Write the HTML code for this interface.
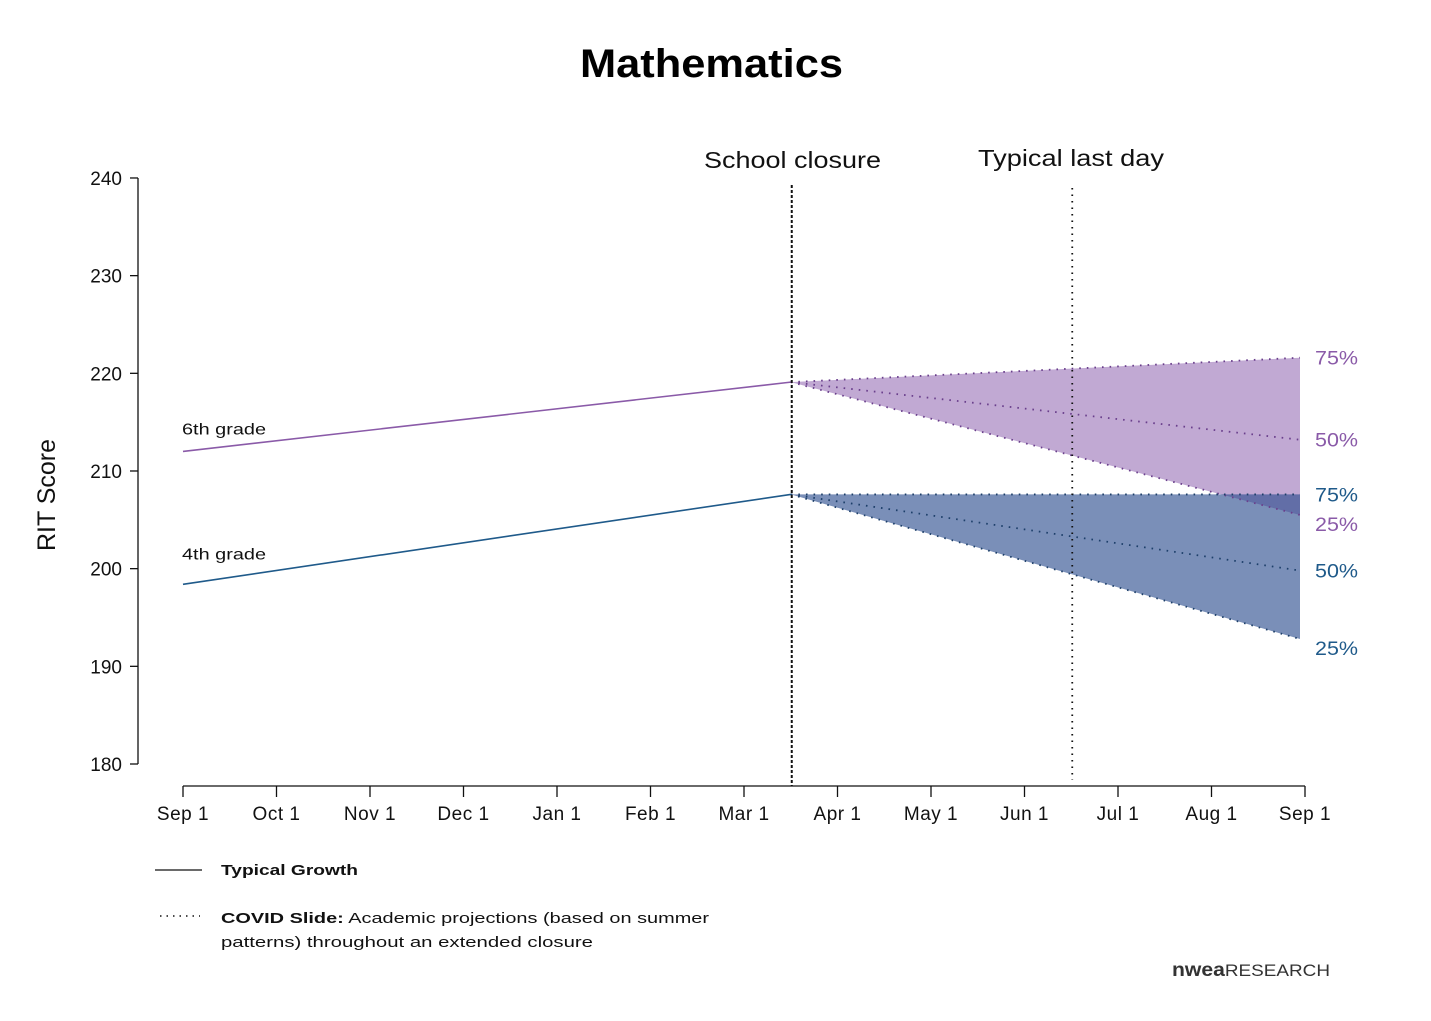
<!DOCTYPE html>
<html><head><meta charset="utf-8"><style>
body{margin:0;background:#fff;}
svg{display:block;font-family:"Liberation Sans",sans-serif;}
</style></head><body>
<svg id="c" width="1431" height="1021" viewBox="0 0 1431 1021">
<text x="580" y="77" textLength="263" lengthAdjust="spacingAndGlyphs" font-size="40" font-weight="bold" fill="#000">Mathematics</text>
<g id="plot"></g>
<text transform="translate(55,495) rotate(-90)" text-anchor="middle" font-size="25" fill="#111">RIT Score</text>
<g>
<line x1="155" y1="870" x2="202" y2="870" stroke="#111" stroke-width="1.3"/>
<text x="221" y="875" textLength="137" lengthAdjust="spacingAndGlyphs" font-size="15" font-weight="bold" fill="#111">Typical Growth</text>
<line x1="160" y1="916" x2="200" y2="916" stroke="#111" stroke-width="1.6" stroke-dasharray="1.5,5"/>
<text x="221" y="923" textLength="488" lengthAdjust="spacingAndGlyphs" font-size="15" fill="#111"><tspan font-weight="bold">COVID Slide:</tspan> Academic projections (based on summer</text>
<text x="221" y="947" textLength="372" lengthAdjust="spacingAndGlyphs" font-size="15" fill="#111">patterns) throughout an extended closure</text>
</g>
<text x="1172" y="976" textLength="158" lengthAdjust="spacingAndGlyphs" font-size="17" fill="#333"><tspan font-weight="bold" font-size="19">nwea</tspan>RESEARCH</text>
</svg>
<script>
const months=["Sep 1","Oct 1","Nov 1","Dec 1","Jan 1","Feb 1","Mar 1","Apr 1","May 1","Jun 1","Jul 1","Aug 1","Sep 1"];
const yTicks=[180,190,200,210,220,230,240];
const closureMonth=6.5;
const lastDayMonth=9.5;
const g6Growth=[212.0,219.1];
const g4Growth=[198.4,207.6];
const g6Proj=[221.6,213.2,205.5];
const g4Proj=[207.6,199.8,192.8];
const pctLabels=["75%","50%","25%"];

const NS="http://www.w3.org/2000/svg";
const plot=document.getElementById('plot');
const X=m=>183+m*(1122/12);
const Y=v=>764-(v-180)*9.767;
function mk(tag,at,parent){const e=document.createElementNS(NS,tag);for(const k in at)e.setAttribute(k,at[k]);(parent||plot).appendChild(e);return e;}

let e=mk('line',{x1:138,y1:178,x2:138,y2:Y(180),stroke:'#111','stroke-width':1.3});


yTicks.forEach(v=>{
 let t=mk('line',{x1:130,y1:Y(v),x2:138,y2:Y(v),stroke:'#111','stroke-width':1.3});
 
 
 let l=mk('text',{x:122,y:Y(v)+7,'text-anchor':'end','font-size':19,fill:'#111'});l.textContent=v;
 
 
});
e=mk('line',{x1:X(0),y1:786,x2:X(12),y2:786,stroke:'#111','stroke-width':1.3});


months.forEach((m,i)=>{
 let t=mk('line',{x1:X(i),y1:786,x2:X(i),y2:797,stroke:'#111','stroke-width':1.3});
 
 
 let l=mk('text',{x:X(i),y:820,'text-anchor':'middle','font-size':19,fill:'#111','letter-spacing':0.5});l.textContent=m;
 
 
});

const cx=X(closureMonth),ex=X(12)-5;
function band(start,proj,fill,name){
 let p=mk('polygon',{points:`${cx},${Y(start)} ${ex},${Y(proj[0])} ${ex},${Y(proj[2])}`,fill:fill});
 
 
}
band(g6Growth[1],g6Proj,'#c1a9d3','grade6-projection-band');
band(g4Growth[1],g4Proj,'rgba(40,75,140,0.62)','grade4-projection-band');

function dots(start,proj,col,pre){
 proj.forEach((v,i)=>{
  let l=mk('line',{x1:cx,y1:Y(start),x2:ex,y2:Y(v),stroke:col,'stroke-width':1.8,'stroke-dasharray':'1.6,6'});
  
  
 });
}
dots(g6Growth[1],g6Proj,'#6a3f8c','grade6');
dots(g4Growth[1],g4Proj,'#1d3f6a','grade4');

e=mk('line',{x1:X(0),y1:Y(g6Growth[0]),x2:cx,y2:Y(g6Growth[1]),stroke:'#8a5aa8','stroke-width':1.6});


e=mk('line',{x1:X(0),y1:Y(g4Growth[0]),x2:cx,y2:Y(g4Growth[1]),stroke:'#1f5a8a','stroke-width':1.6});


e=mk('text',{x:182,y:Y(g6Growth[0])-17,'font-size':16,fill:'#111',textLength:84,lengthAdjust:'spacingAndGlyphs'});e.textContent='6th grade';


e=mk('text',{x:182,y:Y(g4Growth[0])-25,'font-size':16,fill:'#111',textLength:84,lengthAdjust:'spacingAndGlyphs'});e.textContent='4th grade';



e=mk('line',{x1:cx+1,y1:185,x2:cx+1,y2:786,stroke:'#111','stroke-width':2,'stroke-dasharray':'3,2'});


e=mk('line',{x1:X(lastDayMonth)+1,y1:188,x2:X(lastDayMonth)+1,y2:780,stroke:'#111','stroke-width':1.8,'stroke-dasharray':'1.5,5'});


e=mk('text',{x:704,y:168,'font-size':23,fill:'#111',textLength:177,lengthAdjust:'spacingAndGlyphs'});e.textContent='School closure';


e=mk('text',{x:978,y:166,'font-size':23,fill:'#111',textLength:186,lengthAdjust:'spacingAndGlyphs'});e.textContent='Typical last day';



const lab=(v,txt,col,name,dy)=>{let t=mk('text',{x:1315,y:Y(v)+7+(dy||0),'font-size':19,fill:col,textLength:43,lengthAdjust:'spacingAndGlyphs'});t.textContent=txt;
 
 };
g6Proj.forEach((v,i)=>lab(v,pctLabels[i],'#8a5aa8','grade6-label-'+pctLabels[i].replace('%','pct'),i==2?9:0));
g4Proj.forEach((v,i)=>lab(v,pctLabels[i],'#1f5a8a','grade4-label-'+pctLabels[i].replace('%','pct'),i==2?9:0));
</script>
</body></html>
